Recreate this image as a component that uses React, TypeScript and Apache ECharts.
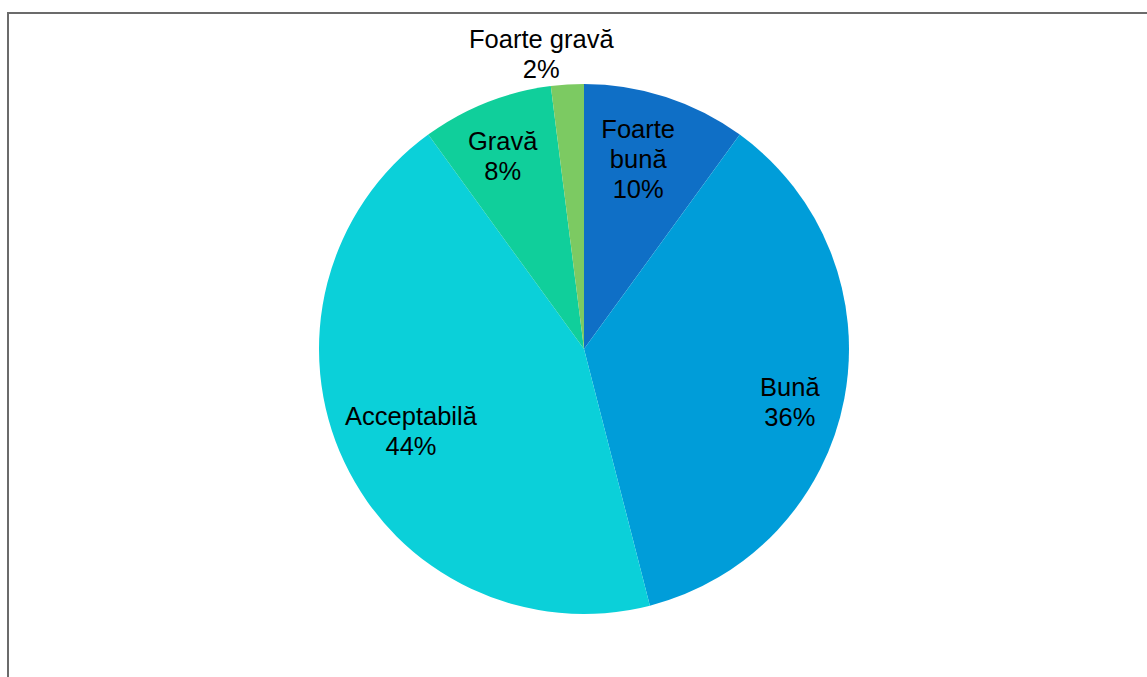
import React, { useEffect, useRef } from "react";
import * as echarts from "echarts";

const categories = ["Foarte bună", "Bună", "Acceptabilă", "Gravă", "Foarte gravă"];
const values = [10, 36, 44, 8, 2];
const colors = ["#0f6fc6", "#009dd9", "#0bd0d9", "#10cf9b", "#7cca62"];
const outsideLabelItems = ["Foarte gravă"];
// small nudges of the labels, px
const labelShiftX = [-9, 5, 12, -6, -24];
const labelShiftY = [4, 15, -5, -3, 2];

const FONT = "'Liberation Sans', Arial, sans-serif";

function labelText(p: any) {
  const name = p.name === "Foarte bună" ? "Foarte\nbună" : p.name;
  const body = name + "\n" + p.value + "%";
  const s = labelShiftY[p.dataIndex];
  if (s > 0) return "{t" + p.dataIndex + "| }\n" + body;
  if (s < 0) return body + "\n{t" + p.dataIndex + "| }";
  return body;
}

function padding(i: number) {
  const s = labelShiftX[i];
  return s < 0 ? [0, -2 * s, 0, 0] : [0, 0, 0, 2 * s];
}

export default function App() {
  const ref = useRef<HTMLDivElement>(null);
  useEffect(() => {
    if (!ref.current) return;
    const chart = echarts.init(ref.current, undefined, { renderer: "svg" });
    const center = [584, 349];
    const rich: any = {};
    labelShiftY.forEach((s, i) => {
      rich["t" + i] = { fontSize: 1, lineHeight: Math.max(1, 2 * Math.abs(s)) };
    });
    const baseLabel = {
      color: "#000",
      fontSize: 25.5,
      lineHeight: 30,
      fontFamily: FONT,
      formatter: labelText,
      rich,
    };
    chart.setOption({
      animation: false,
      backgroundColor: "#fff",
      graphic: [
        {
          type: "rect",
          shape: { x: 8, y: 13, width: 1200, height: 800 },
          style: { fill: "none", stroke: "#6b6b6b", lineWidth: 2 },
          silent: true,
        },
      ],
      series: [
        {
          type: "pie",
          center,
          radius: [0, 265],
          startAngle: 90,
          clockwise: true,
          silent: true,
          label: { show: false },
          labelLine: { show: false },
          data: categories.map((c, i) => ({
            name: c,
            value: values[i],
            itemStyle: { color: colors[i] },
          })),
        },
        {
          type: "pie",
          center,
          radius: [138, 265],
          startAngle: 90,
          clockwise: true,
          silent: true,
          itemStyle: { color: "rgba(0,0,0,0)" },
          label: { ...baseLabel, show: true, position: "inside" },
          labelLine: { show: false },
          data: categories.map((c, i) => ({
            name: c,
            value: values[i],
            label: { show: !outsideLabelItems.includes(c), padding: padding(i) },
          })),
        },
        {
          type: "pie",
          center,
          radius: [270, 320],
          startAngle: 90,
          clockwise: true,
          silent: true,
          itemStyle: { color: "rgba(0,0,0,0)" },
          label: { ...baseLabel, show: true, position: "inside" },
          labelLine: { show: false },
          data: categories.map((c, i) => ({
            name: c,
            value: values[i],
            label: { show: outsideLabelItems.includes(c), padding: padding(i) },
          })),
        },
      ],
    });
    return () => chart.dispose();
  }, []);
  return (
    <div
      ref={ref}
      style={{ position: "fixed", left: 0, top: 0, width: 1147, height: 677 }}
    />
  );
}
